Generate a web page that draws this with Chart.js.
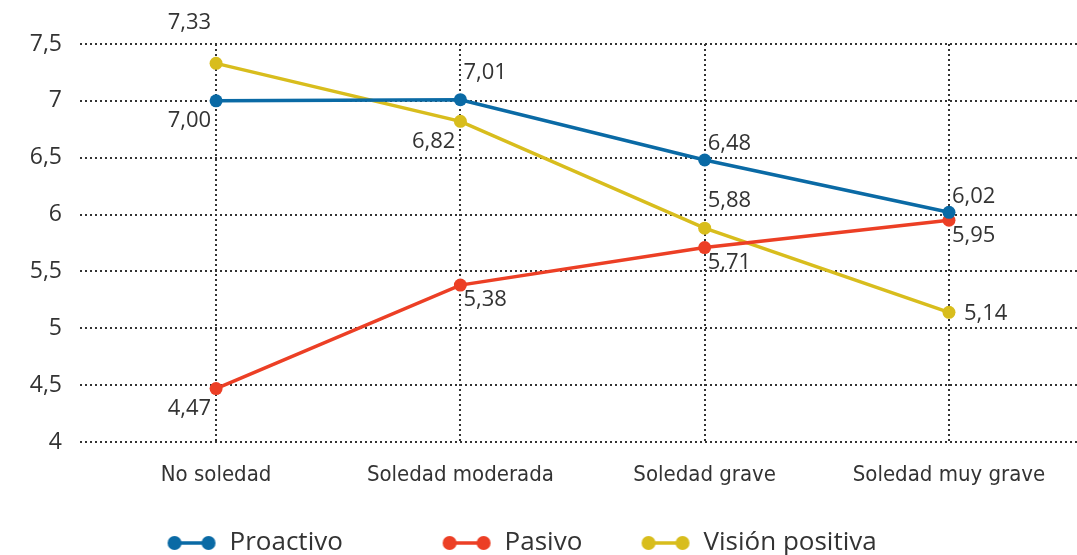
<!DOCTYPE html>
<html>
<head>
<meta charset="utf-8">
<script src="https://cdn.jsdelivr.net/npm/chart.js@4"></script>
<style>
  html, body { margin: 0; padding: 0; overflow: hidden; background: #fff; }
  #wrap { width: 1077px; height: 566px; }
</style>
</head>
<body>
<div id="wrap"><canvas id="chartCanvas"></canvas></div>
<script>
const categories = ["No soledad", "Soledad moderada", "Soledad grave", "Soledad muy grave"];
const proactivo = [7.00, 7.01, 6.48, 6.02];
const pasivo = [4.47, 5.38, 5.71, 5.95];
const visionPositiva = [7.33, 6.82, 5.88, 5.14];
const yTicks = [4, 4.5, 5, 5.5, 6, 6.5, 7, 7.5];

// where each value label sits next to its point
const labelPlaces = [
  ["bl", "t", "tr", "tr"],
  ["bl", "br", "br", "br"],
  ["tl", "bl", "t", "r"]
];
// extra room after each legend entry (spaces)
const legendGaps = [9, 3, 5];

const textColor = "#333";
const gridColor = "#333";

function comma(v, dec) {
  return v.toFixed(dec).replace(".", ",");
}

function legendMarker(color) {
  const c = document.createElement("canvas");
  c.width = 50;
  c.height = 16;
  const g = c.getContext("2d");
  g.strokeStyle = color;
  g.fillStyle = color;
  g.lineWidth = 3.5;
  g.beginPath();
  g.moveTo(8, 8);
  g.lineTo(42, 8);
  g.stroke();
  [8, 42].forEach(x => {
    g.beginPath();
    g.arc(x, 8, 7, 0, Math.PI * 2);
    g.fill();
  });
  return c;
}

const valueLabels = {
  id: "valueLabels",
  afterDatasetsDraw(chart) {
    const ctx = chart.ctx;
    ctx.save();
    ctx.font = "22px 'Open Sans'";
    ctx.fillStyle = textColor;
    ctx.textBaseline = "middle";
    chart.data.datasets.forEach((ds, di) => {
      const meta = chart.getDatasetMeta(di);
      meta.data.forEach((pt, i) => {
        const txt = comma(ds.data[i].y, 2);
        let x = pt.x, y = pt.y;
        const p = labelPlaces[di][i];
        if (p === "bl") { ctx.textAlign = "right"; x -= 5; y += 20; }
        if (p === "tl") { ctx.textAlign = "right"; x -= 5; y -= 41; }
        if (p === "tr") { ctx.textAlign = "left"; x += 3; y -= 16; }
        if (p === "t") { ctx.textAlign = "left"; x += 3; y -= 27; }
        if (p === "br") { ctx.textAlign = "left"; x += 3; y += 15; }
        if (p === "r") { ctx.textAlign = "left"; x += 15; y += 1; }
        ctx.fillText(txt, x, y);
      });
    });
    ctx.restore();
  }
};

function series(label, values, color) {
  return {
    label: label,
    data: values.map((v, i) => ({ x: i, y: v })),
    borderColor: color,
    backgroundColor: color,
    borderWidth: 3.5,
    pointRadius: 6.5,
    pointHoverRadius: 6.5,
    pointBorderWidth: 0,
    tension: 0,
    marker: legendMarker(color)
  };
}

const ctx = document.getElementById("chartCanvas").getContext("2d");

const chart = new Chart(ctx, {
  type: "line",
  data: {
    datasets: [
      series("Proactivo", proactivo, "#0a6aa5"),
      series("Pasivo", pasivo, "#ec3f25"),
      series("Visión positiva", visionPositiva, "#d8bd1d")
    ]
  },
  options: {
    responsive: true,
    maintainAspectRatio: false,
    animation: false,
    layout: { autoPadding: false, padding: { top: 44, right: 0, left: 0, bottom: 0 } },
    scales: {
      x: {
        type: "linear",
        min: -0.557,
        max: 3.524,
        afterBuildTicks: s => { s.ticks = categories.map((c, i) => ({ value: i })); },
        afterFit: s => { s.height = 50; },
        grid: {
          color: gridColor,
          lineWidth: 2,
          drawTicks: false
        },
        border: { display: false, dash: [2, 3] },
        ticks: {
          padding: 20,
          color: textColor,
          font: { family: "'Liberation Sans Narrow', 'DejaVu Sans Condensed', sans-serif", size: 22 },
          callback: v => categories[v]
        }
      },
      y: {
        min: 4,
        max: 7.5,
        afterBuildTicks: s => { s.ticks = yTicks.map(v => ({ value: v })); },
        afterFit: s => { s.width = 80; },
        border: { display: false, dash: [2, 3] },
        grid: {
          color: gridColor,
          lineWidth: 2,
          drawTicks: false
        },
        ticks: {
          padding: 18,
          color: textColor,
          font: { family: "'Open Sans'", size: 23 },
          callback: v => String(v).replace(".", ",")
        }
      }
    },
    plugins: {
      tooltip: { enabled: false },
      legend: {
        position: "bottom",
        labels: {
          usePointStyle: true,
          pointStyleWidth: 50,
          padding: 38,
          color: textColor,
          font: { family: "'Open Sans'", size: 26 },
          generateLabels: c => {
            const items = Chart.defaults.plugins.legend.labels.generateLabels(c);
            items.forEach((it, i) => {
              it.pointStyle = c.data.datasets[it.datasetIndex].marker;
              it.text = it.text + " ".repeat(legendGaps[i]);
            });
            return items;
          }
        }
      }
    }
  },
  plugins: [valueLabels]
});
</script>
</body>
</html>
